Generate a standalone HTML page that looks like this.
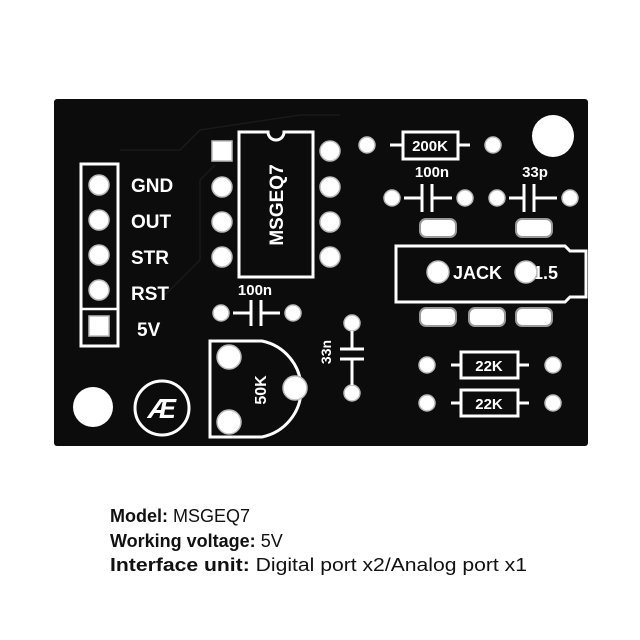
<!DOCTYPE html>
<html><head><meta charset="utf-8"><style>
html,body{margin:0;padding:0;background:#fff;width:640px;height:640px;overflow:hidden}
svg{display:block}
.s{fill:none;stroke:#fff;stroke-width:3}
.h{fill:#fff;stroke:#bbb;stroke-width:1.5}
.t{fill:#fff;font-family:"Liberation Sans",sans-serif;font-weight:bold}
</style></head><body>
<svg width="640" height="640" viewBox="0 0 640 640">
<rect x="54" y="99" width="534" height="347" rx="3" fill="#0c0c0c"/>
<g stroke="#1a1a1a" stroke-width="1.5" fill="none">
<path d="M120 150 L180 150 L200 130 L300 115 L340 115"/>
<path d="M160 300 L200 260 L200 180 L215 165"/>
</g>
<rect x="81" y="164" width="37" height="182" class="s" stroke-width="2.5"/>
<line x1="81" y1="309" x2="118" y2="309" stroke="#fff" stroke-width="2.5"/>
<g class="h">
<circle cx="99" cy="185" r="10"/><circle cx="99" cy="220" r="10"/><circle cx="99" cy="255" r="10"/><circle cx="99" cy="290" r="10"/>
<rect x="89" y="316" width="20" height="20"/>
</g>
<g class="t" font-size="19">
<text x="131" y="192">GND</text><text x="131" y="228">OUT</text><text x="131" y="264">STR</text><text x="131" y="300">RST</text><text x="137" y="336">5V</text>
</g>
<path d="M239 132 H268 A8 8 0 0 0 284 132 H313 V277 H239 Z" class="s"/>
<text class="t" font-size="19" transform="translate(283,205) rotate(-90)" text-anchor="middle">MSGEQ7</text>
<g class="h">
<rect x="212" y="141" width="20" height="20"/>
<circle cx="222" cy="187" r="10"/><circle cx="222" cy="222" r="10"/><circle cx="222" cy="257" r="10"/>
<circle cx="330" cy="151" r="10"/><circle cx="330" cy="187" r="10"/><circle cx="330" cy="222" r="10"/><circle cx="330" cy="257" r="10"/>
</g>
<text class="t" font-size="15" x="255" y="295" text-anchor="middle">100n</text>
<path d="M233 313 H251 M251 300 V326 M261 300 V326 M261 313 H280" class="s"/>
<circle cx="221" cy="313" r="8" class="h"/><circle cx="293" cy="313" r="8" class="h"/>
<path d="M210 341 H262 A49 49 0 0 1 262 437 H210 Z" class="s"/>
<g class="h"><circle cx="229" cy="357" r="12"/><circle cx="295" cy="388" r="12"/><circle cx="229" cy="422" r="12"/></g>
<text class="t" font-size="16" transform="translate(266,390) rotate(-90)" text-anchor="middle">50K</text>
<circle cx="162" cy="408" r="27" class="s"/>
<text class="t" font-size="28" x="162" y="418" text-anchor="middle" font-style="italic">Æ</text>
<circle cx="93" cy="407" r="20" fill="#fff"/>
<circle cx="553" cy="136" r="21" fill="#fff"/>
<circle cx="352" cy="323" r="8" class="h"/><circle cx="352" cy="393" r="8" class="h"/>
<path d="M352 331 V349 M340 349 H364 M340 359 H364 M352 359 V385" class="s"/>
<text class="t" font-size="14" transform="translate(331,352) rotate(-90)" text-anchor="middle">33n</text>
<circle cx="367" cy="145" r="8" class="h"/><circle cx="493" cy="145" r="8" class="h"/>
<path d="M390 145 H403 M458 145 H470" class="s"/>
<rect x="403" y="132" width="55" height="27" class="s"/>
<text class="t" font-size="15" x="430" y="151" text-anchor="middle">200K</text>
<text class="t" font-size="15" x="432" y="177" text-anchor="middle">100n</text>
<text class="t" font-size="15" x="535" y="177" text-anchor="middle">33p</text>
<circle cx="392" cy="198" r="8" class="h"/><circle cx="465" cy="198" r="8" class="h"/>
<circle cx="497" cy="198" r="8" class="h"/><circle cx="570" cy="198" r="8" class="h"/>
<path d="M404 198 H422 M422 184 V212 M432 184 V212 M432 198 H452" class="s"/>
<path d="M509 198 H524 M524 184 V212 M534 184 V212 M534 198 H557" class="s"/>
<g fill="#fff" stroke="#999" stroke-width="2">
<rect x="420" y="219" width="36" height="18" rx="6"/><rect x="516" y="219" width="36" height="18" rx="6"/>
<rect x="420" y="308" width="36" height="18" rx="6"/><rect x="469" y="308" width="36" height="18" rx="6"/><rect x="516" y="308" width="36" height="18" rx="6"/>
</g>
<path d="M396 246 H565 L570 251 H586 V297 H570 L565 302 H396 Z" class="s"/>
<text class="t" font-size="18" x="453" y="279">JACK</text><text class="t" font-size="18" x="533" y="279">1.5</text>
<circle cx="438" cy="272" r="11" class="h"/><circle cx="526" cy="272" r="11" class="h"/>
<circle cx="427" cy="365" r="8" class="h"/><circle cx="553" cy="365" r="8" class="h"/>
<circle cx="427" cy="403" r="8" class="h"/><circle cx="553" cy="403" r="8" class="h"/>
<path d="M451 365 H461 M518 365 H529 M451 403 H461 M518 403 H529" class="s"/>
<rect x="461" y="352" width="57" height="26" class="s"/><rect x="461" y="390" width="57" height="26" class="s"/>
<text class="t" font-size="15" x="489" y="371" text-anchor="middle">22K</text>
<text class="t" font-size="15" x="489" y="409" text-anchor="middle">22K</text>
<g font-family="'Liberation Sans',sans-serif" font-size="18" fill="#111">
<text x="110" y="522"><tspan font-weight="bold">Model:</tspan> MSGEQ7</text>
<text x="110" y="547"><tspan font-weight="bold">Working voltage:</tspan> 5V</text>
<text x="110" y="571" textLength="417" lengthAdjust="spacingAndGlyphs"><tspan font-weight="bold">Interface unit:</tspan> Digital port x2/Analog port x1</text>
</g>
</svg>
</body></html>
